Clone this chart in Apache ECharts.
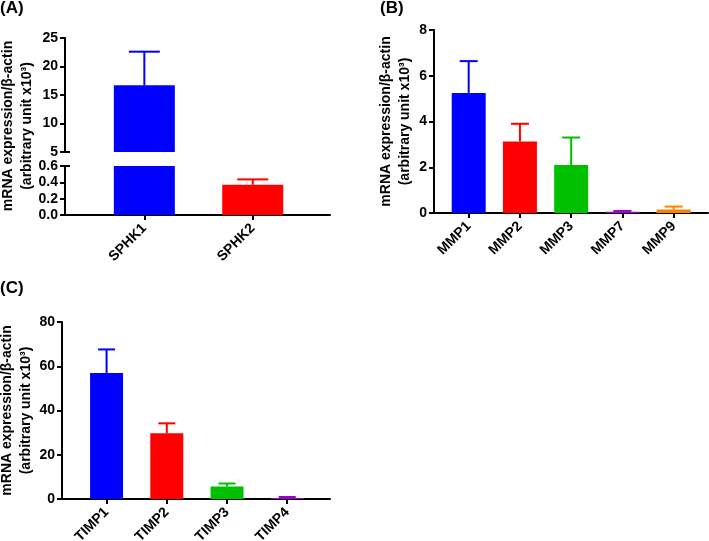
<!DOCTYPE html>
<html><head><meta charset="utf-8">
<script src="https://cdn.jsdelivr.net/npm/echarts@6/dist/echarts.min.js"></script>
<style>html,body{margin:0;padding:0;background:#fff}#c{width:709px;height:541px}</style>
</head><body><div id="c"></div>
<script>
// ---------- data ----------
const sphkCategories = ['SPHK1', 'SPHK2'];
const sphkMeans = [16.7, 0.37];
const sphkSD = [5.9, 0.066];

const mmpCategories = ['MMP1', 'MMP2', 'MMP3', 'MMP7', 'MMP9'];
const mmpMeans = [5.25, 3.13, 2.10, 0.06, 0.15];
const mmpSD = [1.39, 0.77, 1.20, 0.03, 0.13];

const timpCategories = ['TIMP1', 'TIMP2', 'TIMP3', 'TIMP4'];
const timpMeans = [56.9, 29.7, 5.7, 0.5];
const timpSD = [10.7, 4.5, 1.3, 0.4];

const barColors = ['#0000FF', '#FF0000', '#00C000', '#9900CC', '#FF8000'];

const sphkUpperTicks = [5, 25, 5];   // min, max, interval
const sphkLowerTicks = [0, 0.6, 0.2];
const mmpTicks = [0, 8, 2];
const timpTicks = [0, 80, 20];

const yTitle = 'mRNA expression/β-actin\n(arbitrary unit x10³)';

// ---------- helpers ----------
const FONT = '"Liberation Sans", Arial, sans-serif';
const AX = { color: '#000', width: 2 };

function xAxisCfg(gridIndex, cats, min, max, show) {
  const pos = cats.map((_, i) => i + 1);
  return {
    type: 'value', gridIndex, min, max,
    splitLine: { show: false },
    axisLine: { show, onZero: false, lineStyle: AX },
    axisTick: { show, customValues: pos, length: 5, lineStyle: AX },
    axisLabel: {
      show, customValues: pos, rotate: 45, margin: 11,
      formatter: v => cats[Math.round(v) - 1] || '',
      fontFamily: FONT, fontWeight: 'bold', fontSize: 14, color: '#000'
    }
  };
}
function yAxisCfg(gridIndex, ticks, decimals, name, nameGap) {
  const cfg = {
    type: 'value', gridIndex, position: 'left', min: ticks[0], max: ticks[1], interval: ticks[2],
    splitLine: { show: false },
    axisLine: { show: true, onZero: false, lineStyle: AX },
    axisTick: { show: true, length: 5, lineStyle: AX },
    axisLabel: {
      margin: 7, fontFamily: FONT, fontWeight: 'bold', fontSize: 14, color: '#000',
      formatter: v => decimals ? v.toFixed(decimals) : String(v)
    }
  };
  if (name) {
    Object.assign(cfg, {
      name, nameLocation: 'middle', nameRotate: 90, nameGap,
      nameTextStyle: { fontFamily: FONT, fontWeight: 'bold', fontSize: 14, color: '#000', lineHeight: 19 }
    });
  }
  return cfg;
}
// inner tick marking the axis break (crosses to the right of the axis)
function breakTickAxis(gridIndex, ticks, at) {
  return {
    type: 'value', gridIndex, position: 'left', offset: 0,
    min: ticks[0], max: ticks[1], interval: ticks[2],
    splitLine: { show: false },
    axisLine: { show: false },
    axisLabel: { show: false },
    axisTick: { show: true, inside: true, length: 5, customValues: [at], lineStyle: AX }
  };
}
function barData(means, filter, cap) {
  return means.map((m, i) => filter(m)
    ? { value: [i + 1, cap != null ? Math.min(m, cap) : m], itemStyle: { color: barColors[i] } }
    : { value: [i + 1, null] });
}
function errData(means, sds, filter) {
  const out = [];
  means.forEach((m, i) => { if (filter(m)) out.push([i + 1, m, m + sds[i], i]); });
  return out;
}
function errRender(capHalf) {
  return function (params, api) {
    const x = api.value(0), m = api.value(1), t = api.value(2), ci = api.value(3);
    const p0 = api.coord([x, m]), p1 = api.coord([x, t]);
    const c = barColors[ci];
    return {
      type: 'group', children: [
        { type: 'line', shape: { x1: p0[0], y1: p0[1], x2: p1[0], y2: p1[1] }, style: { stroke: c, lineWidth: 2 } },
        { type: 'line', shape: { x1: p1[0] - capHalf, y1: p1[1], x2: p1[0] + capHalf, y2: p1[1] }, style: { stroke: c, lineWidth: 2 } }
      ]
    };
  };
}
function bars(xi, yi, data, w) {
  return { type: 'bar', xAxisIndex: xi, yAxisIndex: yi, data, barWidth: w, clip: true, silent: true, animation: false };
}
function errs(xi, yi, data, capHalf) {
  return { type: 'custom', xAxisIndex: xi, yAxisIndex: yi, data, renderItem: errRender(capHalf),
    encode: { x: 0, y: [1, 2] }, clip: false, silent: true, animation: false, z: 3 };
}

const brkHigh = sphkUpperTicks[0];
const brkLow = sphkLowerTicks[1];
const panelFont = { fontFamily: FONT, fontWeight: 'bold', fontSize: 17, color: '#000' };
const G = { outerBoundsMode: 'none', containLabel: false };

const option = {
  backgroundColor: '#fff',
  animation: false,
  title: [
    { text: '(A)', left: 0, top: 0, textStyle: panelFont, padding: 0 },
    { text: '(B)', left: 380, top: 0, textStyle: panelFont, padding: 0 },
    { text: '(C)', left: 0, top: 280, textStyle: panelFont, padding: 0 }
  ],
  grid: [
    Object.assign({ left: 65, top: 38, width: 265, height: 114 }, G),     // A upper
    Object.assign({ left: 65, top: 166, width: 265, height: 49 }, G),     // A lower
    Object.assign({ left: 434, top: 30, width: 274, height: 183 }, G),    // B
    Object.assign({ left: 62, top: 322, width: 268, height: 177 }, G)     // C
  ],
  xAxis: [
    xAxisCfg(0, sphkCategories, 0.268, 2.713, false),
    xAxisCfg(1, sphkCategories, 0.268, 2.713, true),
    xAxisCfg(2, mmpCategories, 0.323, 5.67, true),
    xAxisCfg(3, timpCategories, 0.26, 4.71, true)
  ],
  yAxis: [
    yAxisCfg(0, sphkUpperTicks, 0),
    yAxisCfg(1, sphkLowerTicks, 1),
    yAxisCfg(2, mmpTicks, 0, yTitle, 19),
    yAxisCfg(3, timpTicks, 0, yTitle, 25),
    breakTickAxis(0, sphkUpperTicks, brkHigh),
    breakTickAxis(1, sphkLowerTicks, brkLow)
  ],
  graphic: [
    { type: 'text', x: 18, y: 126, rotation: Math.PI / 2,
      style: { text: yTitle, fontFamily: FONT, fontWeight: 'bold', fontSize: 14, lineHeight: 19,
        fill: '#000', align: 'center', verticalAlign: 'middle' } }
  ],
  series: [
    bars(0, 0, barData(sphkMeans, m => m > brkHigh), 61),
    bars(1, 1, barData(sphkMeans, () => true, brkLow), 61),
    errs(0, 0, errData(sphkMeans, sphkSD, m => m > brkHigh), 15.5),
    errs(1, 1, errData(sphkMeans, sphkSD, m => m <= brkLow), 15.5),
    bars(2, 2, barData(mmpMeans, () => true), 34),
    errs(2, 2, errData(mmpMeans, mmpSD, () => true), 9),
    bars(3, 3, barData(timpMeans, () => true), 33),
    errs(3, 3, errData(timpMeans, timpSD, () => true), 8.5)
  ]
};

const chart = echarts.init(document.getElementById('c'), null, { renderer: 'canvas' });
chart.setOption(option);
</script>
</body></html>
